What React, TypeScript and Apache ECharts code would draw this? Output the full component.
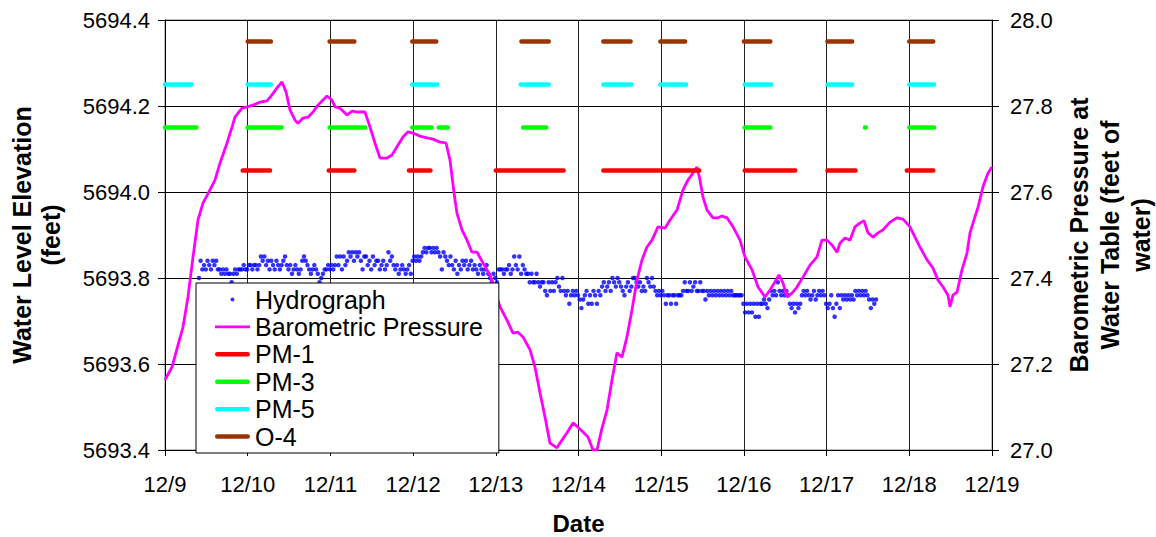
import React, { useEffect, useRef } from "react";
import * as echarts from "echarts";

const FONT = "'Liberation Sans', Arial, sans-serif";

const DATE_LABELS = ["12/9", "12/10", "12/11", "12/12", "12/13", "12/14", "12/15", "12/16", "12/17", "12/18", "12/19"];

// Hydrograph: half-hourly readings, in hundredths of a foot above 5693 ft
const HYDRO_START_DAY = 0.41;
const HYDRO_STEP_DAY = 1 / 48;
const HYDRO_BASE_FT = 5693;
const HYDRO_HUNDREDTHS = [
  80, 84,
  82, 83, 82, 84, 83, 82,
  84, 83, 84, 82,
  82, 81, 82, 81, 82, 81,
  81, 79, 81, 82, 81, 82,
  82, 82, 83, 82, 82, 83,
  83, 82, 83, 83, 82, 83,
  85, 84, 85, 83, 84, 82,
  84, 83, 82, 84, 83, 82, 83, 84,
  85, 83,
  82, 83, 81, 82, 83, 82, 81, 82,
  84, 85, 84,
  83, 82, 81, 82, 83, 82, 81,
  79, 80, 81, 82,
  82, 83, 82, 83, 82, 83,
  85, 83, 85, 82, 85, 83, 84,
  86, 85, 86, 84, 86, 85, 86, 84, 82, 85,
  85, 83, 84, 82, 85, 83, 84,
  84, 82, 83, 84, 82, 83,
  86, 84, 85, 83,
  82, 83, 81, 82, 83, 82, 81, 82, 83, 81,
  84, 85, 84, 85, 84, 85,
  86, 87, 86, 87, 87, 86, 87, 86, 87, 86, 85, 82, 86,
  85, 84, 83, 85,
  83, 82, 84, 81, 83, 82, 84, 83,
  84, 82, 83, 84, 82, 83,
  82, 81, 83, 82, 81, 82, 83, 81,
  80, 79, 81, 80, 79, 82,
  82, 82, 81, 82,
  82, 83, 81, 82, 85, 83, 82, 85, 81, 83, 82, 81,
  81, 79, 81, 79, 79, 81, 79, 78, 79,
  79, 77, 76, 79, 77, 79, 77, 79,
  80, 78, 77, 80,
  77, 76, 77, 74, 76, 77, 76, 77, 76, 75,
  73, 75,
  76, 77, 74, 76, 74, 77, 76, 74, 77, 76,
  78, 79, 77, 78, 79, 77,
  80, 79, 78, 80,
  79, 78, 77, 76, 78, 79, 77, 78,
  80, 80, 79,
  78, 79, 77, 78, 77,
  80, 79, 78, 80,
  78, 77, 76, 77, 76, 77,
  76, 74, 76, 76, 74, 76, 76, 74, 76, 76, 76,
  77, 79, 77, 77, 79, 77, 78, 79, 77, 77, 79, 77,
  77, 75, 77, 76,
  77, 76, 77, 76, 77, 76, 77, 76,
  77, 76, 77, 76, 77, 76,
  76, 76, 76, 76, 76,
  74, 72, 74, 72, 74, 72, 74, 71, 74, 71, 74, 74,
  75, 74, 73, 75,
  77, 76, 77, 76, 79, 77, 76, 77, 76, 77,
  76, 74, 73, 74, 72, 74, 73, 74, 76,
  77, 76, 77, 76, 75, 76, 77, 75, 76, 77, 76, 77,
  76, 74, 73, 74, 76, 73, 71, 74, 76, 73,
  76, 75, 76, 75, 76, 75, 76, 75,
  77, 76, 77, 76, 77, 76, 77, 76, 75, 73, 75, 74, 75,
];

// Barometric pressure (feet of water), days after 12/9
const PRESS_DAY = [
  0.000, 0.085, 0.157, 0.218, 0.278, 0.339, 0.399, 0.459, 0.544, 0.605,
  0.665, 0.750, 0.810, 0.846, 0.931, 0.992, 1.064, 1.149, 1.233, 1.294,
  1.354, 1.415, 1.463, 1.511, 1.572, 1.608, 1.669, 1.729, 1.790, 1.850,
  1.911, 1.959, 2.019, 2.056, 2.116, 2.201, 2.261, 2.334, 2.418, 2.479,
  2.539, 2.600, 2.684, 2.745, 2.805, 2.878, 2.938, 2.999, 3.083, 3.168,
  3.241, 3.325, 3.398, 3.446, 3.495, 3.530, 3.591, 3.652, 3.712, 3.773,
  3.845, 3.930, 3.990, 4.051, 4.135, 4.208, 4.268, 4.329, 4.414, 4.474,
  4.534, 4.595, 4.655, 4.740, 4.776, 4.861, 4.934, 4.994, 5.054, 5.115,
  5.175, 5.224, 5.284, 5.345, 5.405, 5.465, 5.526, 5.586, 5.647, 5.707,
  5.768, 5.828, 5.889, 5.961, 6.046, 6.106, 6.191, 6.264, 6.324, 6.384,
  6.433, 6.469, 6.505, 6.554, 6.626, 6.687, 6.735, 6.796, 6.868, 6.953,
  7.013, 7.098, 7.171, 7.255, 7.316, 7.376, 7.424, 7.473, 7.521, 7.582,
  7.642, 7.715, 7.799, 7.884, 7.944, 8.005, 8.065, 8.126, 8.162, 8.222,
  8.283, 8.343, 8.404, 8.452, 8.501, 8.561, 8.622, 8.682, 8.767, 8.851,
  8.924, 9.008, 9.069, 9.129, 9.214, 9.287, 9.347, 9.408, 9.468, 9.492,
  9.528, 9.577, 9.637, 9.698, 9.734, 9.794, 9.831, 9.891, 9.952, 10.000,
];
const PRESS_FT = [
  27.163, 27.193, 27.244, 27.286, 27.356, 27.449, 27.535, 27.574, 27.605, 27.628,
  27.667, 27.714, 27.751, 27.774, 27.795, 27.798, 27.802, 27.809, 27.812, 27.826,
  27.842, 27.856, 27.833, 27.791, 27.767, 27.760, 27.772, 27.774, 27.786, 27.802,
  27.814, 27.823, 27.814, 27.798, 27.795, 27.779, 27.788, 27.786, 27.786, 27.751,
  27.714, 27.679, 27.679, 27.686, 27.705, 27.728, 27.740, 27.737, 27.730, 27.726,
  27.723, 27.716, 27.714, 27.674, 27.598, 27.551, 27.512, 27.488, 27.460, 27.460,
  27.435, 27.407, 27.372, 27.333, 27.302, 27.272, 27.274, 27.263, 27.233, 27.193,
  27.133, 27.077, 27.016, 27.005, 27.016, 27.040, 27.063, 27.053, 27.042, 27.030,
  27.000, 27.000, 27.051, 27.093, 27.163, 27.226, 27.216, 27.263, 27.326, 27.395,
  27.442, 27.472, 27.488, 27.519, 27.516, 27.535, 27.558, 27.605, 27.628, 27.644,
  27.658, 27.628, 27.588, 27.558, 27.540, 27.540, 27.544, 27.540, 27.519, 27.488,
  27.449, 27.419, 27.379, 27.356, 27.372, 27.391, 27.407, 27.388, 27.356, 27.365,
  27.379, 27.402, 27.430, 27.449, 27.488, 27.488, 27.477, 27.460, 27.481, 27.493,
  27.488, 27.519, 27.528, 27.533, 27.505, 27.495, 27.505, 27.512, 27.530, 27.540,
  27.537, 27.519, 27.495, 27.472, 27.442, 27.423, 27.395, 27.379, 27.360, 27.333,
  27.360, 27.367, 27.419, 27.458, 27.505, 27.542, 27.565, 27.612, 27.644, 27.658,
];

// Pumping periods (start day, end day) drawn at a fixed marker level
const PM1_LEVEL = 5694.05;
const PM1_ON = [[0.94, 1.27], [1.98, 2.29], [2.95, 3.21], [4.0, 4.82], [5.3, 6.46], [7.01, 7.62], [8.01, 8.35], [8.97, 9.29]];
const PM3_LEVEL = 5694.15;
const PM3_ON = [[0.0, 0.38], [1.0, 1.41], [1.99, 2.42], [2.99, 3.22], [3.31, 3.42], [4.33, 4.61], [7.01, 7.32], [8.465, 8.475], [9.0, 9.3]];
const PM5_LEVEL = 5694.25;
const PM5_ON = [[0.0, 0.32], [1.0, 1.28], [2.99, 3.29], [4.3, 4.64], [5.3, 5.64], [5.99, 6.3], [7.01, 7.33], [8.01, 8.31], [9.0, 9.3]];
const O4_LEVEL = 5694.35;
const O4_ON = [[1.0, 1.28], [1.99, 2.29], [2.99, 3.28], [4.31, 4.64], [5.3, 5.63], [5.99, 6.29], [7.0, 7.32], [8.01, 8.31], [9.0, 9.29]];

const ICON_DOT = "path://M0 0M35 14M15.5 7A2 2 0 1 0 19.5 7A2 2 0 1 0 15.5 7Z";
const ICON_THIN = "path://M0 0M35 14M0 5.6L35 5.6L35 8.4L0 8.4Z";
const ICON_THICK = "path://M0 0M35 14M2.2 4.8L32.8 4.8A2.2 2.2 0 0 1 32.8 9.2L2.2 9.2A2.2 2.2 0 0 1 2.2 4.8Z";

function segmentData(periods: number[][], level: number) {
  const out: any[] = [];
  periods.forEach(([a, b]) => {
    out.push([a, level], [b, level], [b, "-"]);
  });
  return out;
}

function segSeries(name: string, color: string, periods: number[][], level: number) {
  return {
    name,
    type: "line",
    symbol: "none",
    data: segmentData(periods, level),
    connectNulls: false,
    lineStyle: { color, width: 4.5, cap: "round" },
    itemStyle: { color },
    z: 4,
  };
}

export default function App() {
  const ref = useRef<HTMLDivElement>(null);
  useEffect(() => {
    if (!ref.current) return;
    const chart = echarts.init(ref.current, undefined, { renderer: "svg" });
    const hydro = HYDRO_HUNDREDTHS.map((h, i) => [HYDRO_START_DAY + i * HYDRO_STEP_DAY, HYDRO_BASE_FT + h / 100]);
    const press = PRESS_DAY.map((d, i) => [d, PRESS_FT[i]]);
    chart.setOption({
      animation: false,
      backgroundColor: "#fff",
      textStyle: { fontFamily: FONT },
      grid: {
        left: 165,
        right: 164,
        top: 20,
        bottom: 87,
        show: true,
        borderColor: "#808080",
        borderWidth: 1,
        containLabel: false,
        outerBoundsMode: "none",
      },
      legend: {
        orient: "vertical",
        left: 196,
        top: 283,
        padding: [3, 16, 3, 19],
        backgroundColor: "#fff",
        borderColor: "#000",
        borderWidth: 1,
        itemWidth: 35,
        itemHeight: 14,
        itemGap: 0.4,
        selectedMode: false,
        textStyle: { fontFamily: FONT, fontSize: 25, color: "#000", lineHeight: 27 },
        data: [
          { name: "Hydrograph", icon: ICON_DOT },
          { name: "Barometric Pressure", icon: ICON_THIN },
          { name: "PM-1", icon: ICON_THICK },
          { name: "PM-3", icon: ICON_THICK },
          { name: "PM-5", icon: ICON_THICK },
          { name: "O-4", icon: ICON_THICK },
        ],
      },
      xAxis: {
        type: "value",
        min: 0,
        max: 10,
        interval: 1,
        name: "Date",
        nameLocation: "middle",
        nameGap: 61,
        nameTextStyle: { fontFamily: FONT, fontSize: 24, fontWeight: "bold", color: "#000" },
        axisLine: { show: true, onZero: false, lineStyle: { color: "#000", width: 1 } },
        axisTick: { show: true, length: 6, lineStyle: { color: "#000" } },
        axisLabel: {
          margin: 23,
          fontFamily: FONT,
          fontSize: 22,
          color: "#000",
          formatter: (v: number) => DATE_LABELS[Math.round(v)] ?? "",
        },
        splitLine: { show: true, lineStyle: { color: "#222", width: 1 } },
      },
      yAxis: [
        {
          type: "value",
          min: 5693.4,
          max: 5694.4,
          interval: 0.2,
          name: "Water Level Elevation\n(feet)",
          nameLocation: "middle",
          nameRotate: 90,
          nameGap: 100,
          nameTextStyle: { fontFamily: FONT, fontSize: 25, fontWeight: "bold", color: "#000", lineHeight: 29 },
          axisLine: { show: true, lineStyle: { color: "#000", width: 1 } },
          axisTick: { show: true, length: 7, lineStyle: { color: "#000" } },
          axisLabel: { margin: 15, fontFamily: FONT, fontSize: 22, color: "#000", formatter: (v: number) => v.toFixed(1) },
          splitLine: { show: true, lineStyle: { color: "#000", width: 1 } },
        },
        {
          type: "value",
          min: 27,
          max: 28,
          interval: 0.2,
          position: "right",
          name: "Barometric Pressure at\nWater Table (feet of\nwater)",
          nameLocation: "middle",
          nameRotate: 90,
          nameGap: 70,
          nameTextStyle: { fontFamily: FONT, fontSize: 25, fontWeight: "bold", color: "#000", lineHeight: 31 },
          axisLine: { show: true, lineStyle: { color: "#000", width: 1 } },
          axisTick: { show: true, length: 7, lineStyle: { color: "#000" } },
          axisLabel: { margin: 18, fontFamily: FONT, fontSize: 22, color: "#000", formatter: (v: number) => v.toFixed(1) },
          splitLine: { show: false },
        },
      ],
      series: [
        {
          name: "Hydrograph",
          type: "scatter",
          data: hydro,
          symbol: "circle",
          symbolSize: 4.5,
          itemStyle: { color: "#0000FF" },
          z: 2,
        },
        {
          name: "Barometric Pressure",
          type: "line",
          yAxisIndex: 1,
          data: press,
          symbol: "none",
          lineStyle: { color: "#FF00FF", width: 2.8 },
          itemStyle: { color: "#FF00FF" },
          z: 3,
        },
        segSeries("PM-1", "#FF0000", PM1_ON, PM1_LEVEL),
        segSeries("PM-3", "#00FF00", PM3_ON, PM3_LEVEL),
        segSeries("PM-5", "#00FFFF", PM5_ON, PM5_LEVEL),
        segSeries("O-4", "#993300", O4_ON, O4_LEVEL),
      ],
    });
    return () => chart.dispose();
  }, []);
  return <div ref={ref} style={{ position: "absolute", left: 0, top: 0, width: 1156, height: 537 }} />;
}
